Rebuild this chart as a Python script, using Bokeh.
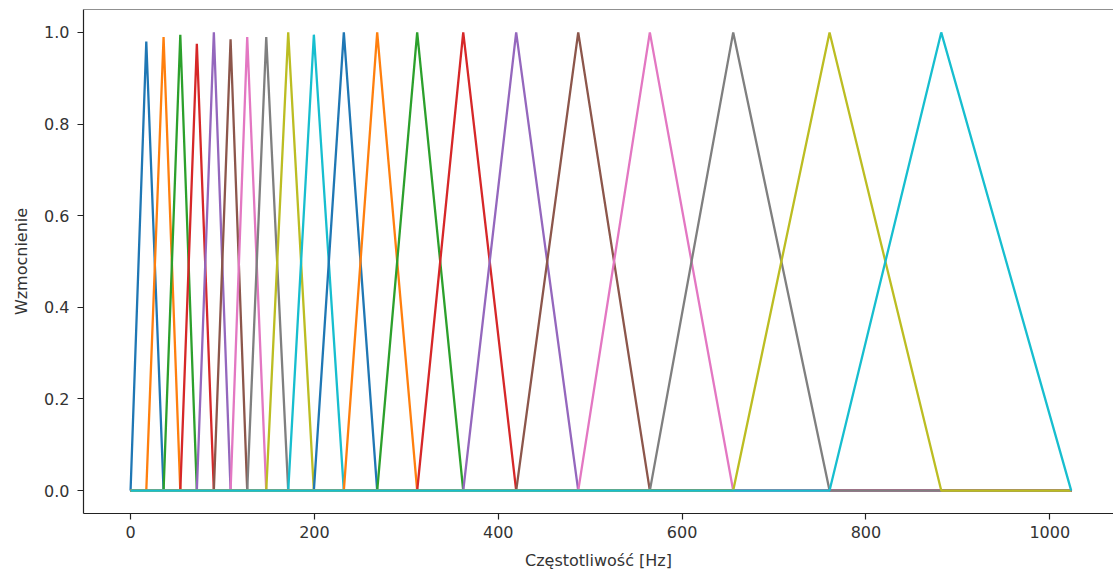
from bokeh.plotting import figure
from bokeh.models import Range1d, FixedTicker, PrintfTickFormatter, Span
from bokeh.embed import file_html
from bokeh.resources import INLINE

# Filter band edges (Hz); filter i spans edges[i]..edges[i+2], peak at edges[i+1]
edges = [0, 17.1, 35.9, 54.1, 72.1, 90.6, 108.8, 126.9, 147.6, 171.5, 199.4,
         232.0, 268.3, 311.8, 361.9, 419.5, 487.0, 564.9, 655.6, 760.4, 881.9, 1023.3]
peak_gain = [0.98, 0.99, 0.995, 0.975, 1.0, 0.985, 0.99, 0.99, 1.0, 0.995,
             1.0, 1.0, 1.0, 1.0, 1.0, 1.0, 1.0, 1.0, 1.0, 1.0]
f_max = 1023.3
x_ticks = [0, 200, 400, 600, 800, 1000]
y_ticks = [0.0, 0.2, 0.4, 0.6, 0.8, 1.0]
colors = ["#1f77b4", "#ff7f0e", "#2ca02c", "#d62728", "#9467bd",
          "#8c564b", "#e377c2", "#7f7f7f", "#bcbd22", "#17becf"]

FONT = "DejaVu Sans"
p = figure(width=1113, height=574, output_backend="svg", toolbar_location=None,
           x_range=Range1d(-51.2, 1069.3), y_range=Range1d(-0.05, 1.05))
p.min_border_left = 83
p.min_border_right = 0
p.min_border_top = 9
p.min_border_bottom = 61
p.outline_line_color = None
p.grid.visible = False
p.background_fill_color = "white"
p.border_fill_color = "white"

for i in range(len(peak_gain)):
    xs = [0, edges[i], edges[i + 1], edges[i + 2], f_max]
    ys = [0, 0, peak_gain[i], 0, 0]
    p.line(xs, ys, line_color=colors[i % 10], line_width=2.3)

p.add_layout(Span(location=1.05, dimension="width", line_color="#222222", line_width=1.2))

for ax in (p.xaxis[0], p.yaxis[0]):
    ax.axis_line_color = "#222222"
    ax.axis_line_width = 1.2
    ax.major_tick_line_color = "#222222"
    ax.major_tick_line_width = 1.2
    ax.major_tick_in = 0
    ax.major_tick_out = 6
    ax.minor_tick_line_color = None
    ax.major_label_text_font = FONT
    ax.major_label_text_font_size = "16px"
    ax.major_label_text_color = "#333333"
    ax.axis_label_text_font = FONT
    ax.axis_label_text_font_size = "16px"
    ax.axis_label_text_font_style = "normal"
    ax.axis_label_text_color = "#333333"

p.xaxis[0].ticker = FixedTicker(ticks=x_ticks)
p.yaxis[0].ticker = FixedTicker(ticks=y_ticks)
p.yaxis[0].formatter = PrintfTickFormatter(format="%.1f")
p.xaxis[0].axis_label = "Częstotliwość [Hz]"
p.yaxis[0].axis_label = "Wzmocnienie"
p.xaxis[0].major_label_standoff = 6
p.yaxis[0].major_label_standoff = 8
p.xaxis[0].axis_label_standoff = 10
p.yaxis[0].axis_label_standoff = 10

open("out.html", "w").write(file_html(p, INLINE))
